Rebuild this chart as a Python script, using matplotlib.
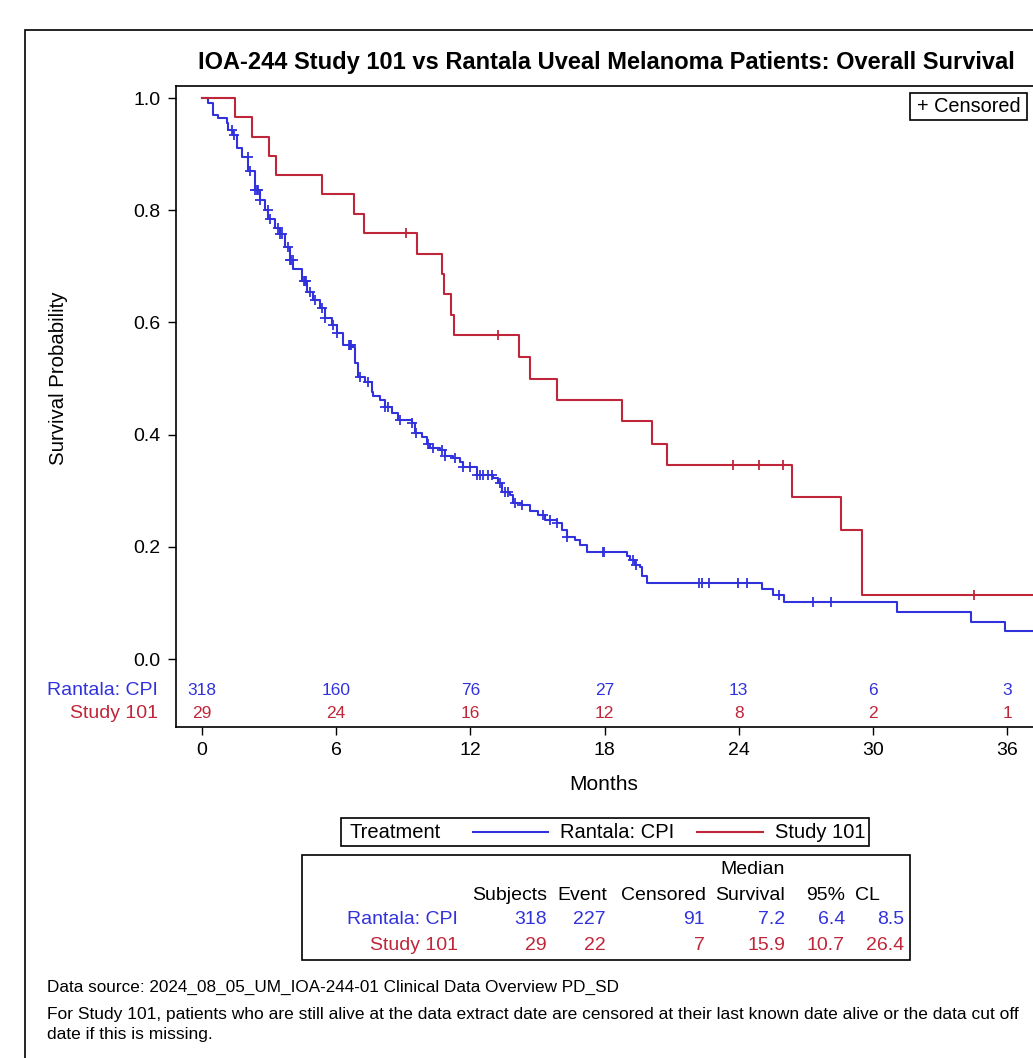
import numpy as np
import matplotlib
matplotlib.use('Agg')
import matplotlib.pyplot as plt
from matplotlib.patches import Rectangle
from matplotlib.lines import Line2D

plt.rcParams['font.family'] = ['Liberation Sans', 'DejaVu Sans']

#############
## Data    ##
#############
groups = ['Rantala: CPI', 'Study 101']

# Rantala: CPI, Kaplan-Meier steps (months, survival)
cpi_time = [0.00, 0.28, 0.51, 0.73, 1.10, 1.18, 1.40, 1.55, 1.78, 2.07, 2.37, 2.59, 2.82, 2.97,
            3.26, 3.49, 3.71, 3.94, 4.08, 4.46, 4.68, 4.98, 5.28, 5.50, 5.80, 6.02, 6.32, 6.69,
            6.84, 6.99, 7.29, 7.59, 7.66, 7.96, 8.18, 8.48, 8.78, 9.38, 9.53, 9.83, 10.05, 10.20,
            10.64, 10.87, 11.24, 11.54, 11.69, 12.29, 13.03, 13.25, 13.40, 13.77, 13.92, 14.30,
            14.67, 15.04, 15.34, 15.86, 16.09, 16.31, 16.68, 16.91, 17.20, 18.99, 19.14, 19.36,
            19.59, 19.67, 19.89, 25.03, 25.55, 26.03, 31.07, 34.39, 35.91]
cpi_surv = [1.000, 0.991, 0.970, 0.964, 0.955, 0.943, 0.934, 0.910, 0.895, 0.869, 0.836, 0.819,
            0.801, 0.784, 0.768, 0.757, 0.735, 0.711, 0.696, 0.673, 0.655, 0.640, 0.625, 0.607,
            0.595, 0.581, 0.560, 0.557, 0.527, 0.503, 0.494, 0.476, 0.468, 0.462, 0.450, 0.438,
            0.426, 0.420, 0.402, 0.396, 0.384, 0.376, 0.373, 0.361, 0.358, 0.351, 0.342, 0.328,
            0.322, 0.313, 0.298, 0.292, 0.278, 0.275, 0.263, 0.257, 0.248, 0.243, 0.230, 0.218,
            0.212, 0.203, 0.191, 0.184, 0.176, 0.168, 0.164, 0.148, 0.136, 0.124, 0.114, 0.102,
            0.084, 0.066, 0.050]
cpi_cens = [1.33, 1.43, 2.06, 2.15, 2.37, 2.45, 2.50, 2.59, 2.95, 3.04, 3.40, 3.49, 3.56, 3.85,
            3.94, 3.98, 4.07, 4.56, 4.61, 4.65, 4.83, 5.05, 5.35, 5.50, 5.86, 6.02, 6.57, 6.62,
            6.66, 7.07, 7.44, 8.18, 8.32, 8.86, 9.38, 9.57, 10.12, 10.34, 10.72, 10.87, 11.31,
            11.69, 11.99, 12.29, 12.43, 12.58, 12.80, 12.96, 13.33, 13.55, 13.70, 14.00, 14.30,
            15.26, 15.56, 15.86, 16.31, 17.91, 17.98, 19.29, 19.41, 22.24, 22.36, 22.66, 23.96,
            24.39, 25.82, 27.34, 28.13]

# Study 101
s101_time = [0.00, 1.48, 2.22, 3.01, 3.31, 5.38, 6.81, 7.25, 9.63, 10.72, 10.84, 11.14, 11.27,
             14.16, 14.67, 15.89, 18.77, 20.14, 20.78, 26.40, 28.56, 29.50]
s101_surv = [1.000, 0.966, 0.931, 0.897, 0.862, 0.828, 0.794, 0.760, 0.722, 0.686, 0.650, 0.614,
             0.578, 0.539, 0.500, 0.461, 0.424, 0.384, 0.346, 0.288, 0.230, 0.114]
s101_cens = [9.12, 13.22, 23.75, 24.90, 25.97, 34.54]

# Number at risk
risk_times = [0, 6, 12, 18, 24, 30, 36]
cpi_risk = [318, 160, 76, 27, 13, 6, 3]
s101_risk = [29, 24, 16, 12, 8, 2, 1]

# Summary table
table_cols = ['Subjects', 'Event', 'Censored', 'Survival', '95%', 'CL']
cpi_stats = ['318', '227', '91', '7.2', '6.4', '8.5']
s101_stats = ['29', '22', '7', '15.9', '10.7', '26.4']

title = 'IOA-244 Study 101 vs Rantala Uveal Melanoma Patients: Overall Survival'
note1 = 'Data source: 2024_08_05_UM_IOA-244-01 Clinical Data Overview PD_SD'
note2 = ('For Study 101, patients who are still alive at the data extract date are censored '
         'at their last known date alive or the data cut off')
note3 = 'date if this is missing.'

blue = '#3232dc'
red = '#c0263a'

#############
## Figure  ##
#############
W, H = 1033, 1058
fig = plt.figure(figsize=(W / 100, H / 100), dpi=100)


def fx(px):
    return px / W


def fy(py):
    return 1 - py / H


ax = fig.add_axes([fx(176), fy(727), fx(1035) - fx(176), fy(86) - fy(727)])
x_min, x_max = -1.163, 37.25
ax.set_xlim(x_min, x_max)
ax.set_ylim(-0.1212, 1.0214)

for t, s, c, col in [(cpi_time, cpi_surv, cpi_cens, blue), (s101_time, s101_surv, s101_cens, red)]:
    t = np.array(t + [x_max])
    s = np.array(s + [s[-1]])
    ax.step(t, s, where='post', color=col, lw=1.5, clip_on=True)
    idx = np.searchsorted(t, c, side='right') - 1
    ax.plot(c, s[idx], ls='none', marker='+', ms=7.5, mew=1.3, color=col)

ax.set_xticks(risk_times)
ax.set_yticks(np.arange(0, 1.01, 0.2))
ax.set_yticklabels([f'{v:.1f}' for v in np.arange(0, 1.01, 0.2)])
ax.tick_params(direction='out', length=6, width=1, labelsize=14, pad=5)
for sp in ax.spines.values():
    sp.set_linewidth(1.2)

# at-risk rows inside the plot area
for vals, yv, col, lab in [(cpi_risk, -0.057, blue, groups[0]), (s101_risk, -0.098, red, groups[1])]:
    for t, n in zip(risk_times, vals):
        ax.text(t, yv, str(n), color=col, fontsize=12.5, ha='center', va='center')
    ax.text(-1.97, yv, lab, color=col, fontsize=14, ha='right', va='center', clip_on=False)

fig.text(fx(606), fy(62), title, fontsize=17, fontweight='bold', ha='center', va='center')
fig.text(fx(58), fy(378), 'Survival Probability', fontsize=14.7, rotation=90, ha='center', va='center')
fig.text(fx(604), fy(784), 'Months', fontsize=15, ha='center', va='center')

# censored legend
fig.add_artist(Rectangle((fx(910), fy(120)), fx(1027) - fx(910), fy(93) - fy(120),
                         transform=fig.transFigure, fc='white', ec='black', lw=1.2))
fig.text(fx(968.5), fy(106.5), '+ Censored', fontsize=14.3, ha='center', va='center')

# treatment legend
fig.add_artist(Rectangle((fx(341), fy(846)), fx(869) - fx(341), fy(818) - fy(846),
                         transform=fig.transFigure, fc='none', ec='black', lw=1.2))
fig.text(fx(349), fy(832), 'Treatment', fontsize=14.5, ha='left', va='center')
fig.add_artist(Line2D([fx(473), fx(548)], [fy(832), fy(832)], transform=fig.transFigure, color=blue, lw=1.5))
fig.text(fx(560), fy(832), groups[0], fontsize=14.5, ha='left', va='center')
fig.add_artist(Line2D([fx(697), fx(763)], [fy(832), fy(832)], transform=fig.transFigure, color=red, lw=1.5))
fig.text(fx(775), fy(832), groups[1], fontsize=14.5, ha='left', va='center')

# summary table
fig.add_artist(Rectangle((fx(302), fy(960)), fx(910) - fx(302), fy(855) - fy(960),
                         transform=fig.transFigure, fc='none', ec='black', lw=1.2))
col_right = [547, 606, 705, 785, 845, 904]
head_right = [547, 607, 706, 785, 845, 880]
fig.text(fx(785), fy(869), 'Median', fontsize=14, ha='right', va='center')
for name, xr in zip(table_cols, head_right):
    fig.text(fx(xr), fy(895), name, fontsize=14, ha='right', va='center')
for stats, yv, col, lab in [(cpi_stats, 920, blue, groups[0]), (s101_stats, 945, red, groups[1])]:
    fig.text(fx(458), fy(yv), lab, fontsize=14, color=col, ha='right', va='center')
    for v, xr in zip(stats, col_right):
        fig.text(fx(xr), fy(yv), v, fontsize=14, color=col, ha='right', va='center')

# footnotes
fig.text(fx(47), fy(987), note1, fontsize=12.3, ha='left', va='center')
fig.text(fx(47), fy(1014), note2, fontsize=12.5, ha='left', va='center')
fig.text(fx(47), fy(1034), note3, fontsize=12.5, ha='left', va='center')

# outer frame
fig.add_artist(Rectangle((fx(25), -0.1), 1.2, fy(30) + 0.1, transform=fig.transFigure,
                         fc='none', ec='black', lw=1.2))

fig.savefig('out.png', dpi=100)
